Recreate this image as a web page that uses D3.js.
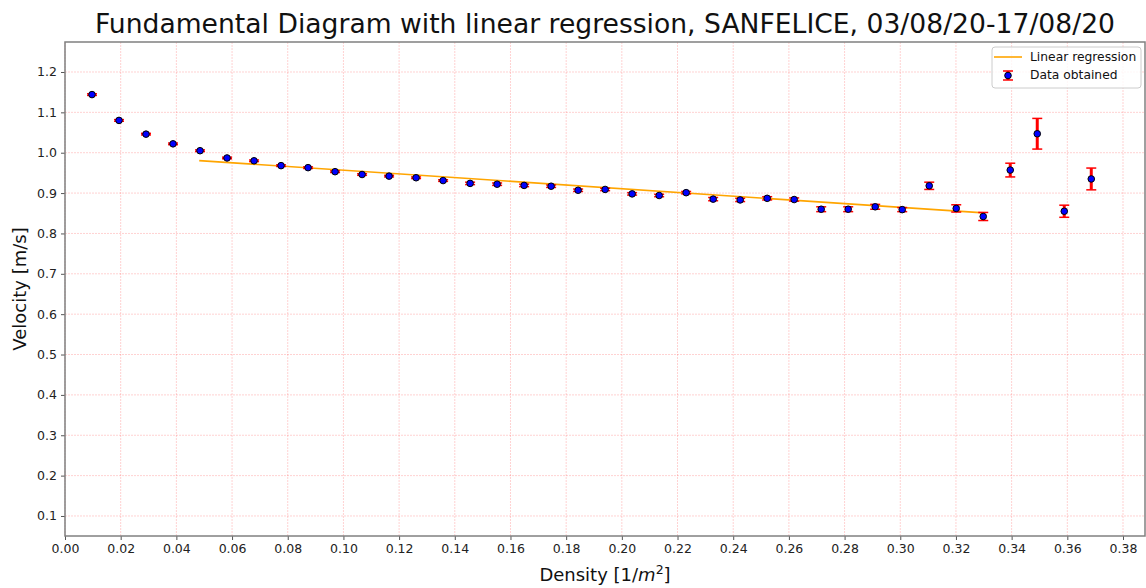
<!DOCTYPE html>
<html>
<head>
<meta charset="utf-8">
<script src="https://cdn.jsdelivr.net/npm/d3@7"></script>
<style>
  body { margin: 0; background: #fff; }
  text { font-family: "DejaVu Sans", sans-serif; }
</style>
</head>
<body>
<svg id="chart" width="1146" height="588"></svg>
<script>
// data
const density = [0.0097, 0.0194, 0.0291, 0.0388, 0.0485, 0.0582, 0.0679, 0.0776, 0.0873, 0.0970,
  0.1067, 0.1164, 0.1261, 0.1358, 0.1455, 0.1552, 0.1649, 0.1746, 0.1843, 0.1940,
  0.2037, 0.2134, 0.2231, 0.2328, 0.2425, 0.2522, 0.2619, 0.2716, 0.2813, 0.2910,
  0.3007, 0.3104, 0.3201, 0.3298, 0.3395, 0.3492, 0.3589, 0.3686];
const velocity = [1.144, 1.080, 1.046, 1.022, 1.005, 0.987, 0.980, 0.968, 0.963, 0.953,
  0.946, 0.942, 0.938, 0.931, 0.924, 0.922, 0.919, 0.917, 0.907, 0.909,
  0.898, 0.894, 0.901, 0.885, 0.883, 0.887, 0.884, 0.860, 0.860, 0.866,
  0.859, 0.918, 0.862, 0.842, 0.957, 1.047, 0.855, 0.935];
const velErr = [0.002, 0.002, 0.002, 0.002, 0.002, 0.002, 0.002, 0.002, 0.002, 0.002,
  0.002, 0.002, 0.002, 0.002, 0.003, 0.003, 0.003, 0.003, 0.003, 0.003,
  0.003, 0.003, 0.003, 0.004, 0.004, 0.004, 0.004, 0.006, 0.006, 0.006,
  0.005, 0.009, 0.009, 0.010, 0.017, 0.038, 0.015, 0.027];
// regression line ends
const regX = [0.0482, 0.3300];
const regY = [0.9805, 0.8510];

const xTicks = [0.00, 0.02, 0.04, 0.06, 0.08, 0.10, 0.12, 0.14, 0.16, 0.18, 0.20,
  0.22, 0.24, 0.26, 0.28, 0.30, 0.32, 0.34, 0.36, 0.38];
const yTicks = [0.1, 0.2, 0.3, 0.4, 0.5, 0.6, 0.7, 0.8, 0.9, 1.0, 1.1, 1.2];

const svg = d3.select("#chart");
const width = +svg.attr("width");
const height = +svg.attr("height");
const margins = { top: 42, right: 1, bottom: 52, left: 65 };
const plotW = width - margins.left - margins.right;
const plotH = height - margins.top - margins.bottom;

const x = d3.scaleLinear().domain([0, 0.3879]).range([0, plotW]);
const y = d3.scaleLinear().domain([0.0504, 1.2743]).range([plotH, 0]);

const g = svg.append("g")
  .attr("transform", "translate(" + margins.left + "," + margins.top + ")");

// grid
g.selectAll("line.vgrid").data(xTicks).join("line")
  .attr("class", "vgrid")
  .attr("x1", d => x(d)).attr("x2", d => x(d))
  .attr("y1", 0).attr("y2", plotH)
  .attr("stroke", "#ff0000").attr("stroke-opacity", 0.18)
  .attr("stroke-dasharray", "2,1");
g.selectAll("line.hgrid").data(yTicks).join("line")
  .attr("class", "hgrid")
  .attr("x1", 0).attr("x2", plotW)
  .attr("y1", d => y(d)).attr("y2", d => y(d))
  .attr("stroke", "#ff0000").attr("stroke-opacity", 0.18)
  .attr("stroke-dasharray", "2,1");

// regression
g.append("path")
  .datum(regX.map((d, i) => [d, regY[i]]))
  .attr("d", d3.line().x(d => x(d[0])).y(d => y(d[1])))
  .attr("stroke", "orange").attr("stroke-width", 1.6).attr("fill", "none");

// error bars
const pts = density.map((d, i) => ({ x: d, y: velocity[i], e: velErr[i] }));
const eb = g.selectAll("g.eb").data(pts).join("g").attr("class", "eb");
eb.append("line")
  .attr("x1", d => x(d.x)).attr("x2", d => x(d.x))
  .attr("y1", d => y(d.y - d.e)).attr("y2", d => y(d.y + d.e))
  .attr("stroke", "red").attr("stroke-width", 3);
[-1, 1].forEach(s => {
  eb.append("line")
    .attr("x1", d => x(d.x) - 5).attr("x2", d => x(d.x) + 5)
    .attr("y1", d => y(d.y + s * d.e)).attr("y2", d => y(d.y + s * d.e))
    .attr("stroke", "red").attr("stroke-width", 1.5);
});
eb.append("circle")
  .attr("cx", d => x(d.x)).attr("cy", d => y(d.y))
  .attr("r", 3.3)
  .attr("fill", "blue").attr("stroke", "black").attr("stroke-width", 1);

// axes
const xAxis = g.append("g")
  .attr("transform", "translate(0," + plotH + ")")
  .call(d3.axisBottom(x).tickValues(xTicks).tickFormat(d3.format(".2f")).tickSize(4).tickPadding(4));
const yAxis = g.append("g")
  .call(d3.axisLeft(y).tickValues(yTicks).tickFormat(d3.format(".1f")).tickSize(4).tickPadding(4));
[xAxis, yAxis].forEach(a => {
  a.select(".domain").remove();
  a.selectAll(".tick line").attr("stroke", "#555");
  a.selectAll(".tick text").attr("fill", "#222").style("font-size", "12.5px")
    .style("font-family", "DejaVu Sans");
});

// frame
g.append("rect")
  .attr("x", 0).attr("y", 0).attr("width", plotW).attr("height", plotH)
  .attr("fill", "none").attr("stroke", "#808080").attr("stroke-width", 1.5);

// title
svg.append("text")
  .attr("x", margins.left + plotW / 2).attr("y", 33)
  .attr("text-anchor", "middle")
  .style("font-size", "26.6px").attr("fill", "#111")
  .text("Fundamental Diagram with linear regression, SANFELICE, 03/08/20-17/08/20");

// axis labels
const xl = svg.append("text")
  .attr("x", margins.left + plotW / 2).attr("y", 581)
  .attr("text-anchor", "middle")
  .style("font-size", "18px").attr("fill", "#111");
xl.append("tspan").text("Density [1/");
xl.append("tspan").style("font-style", "italic").text("m");
xl.append("tspan").attr("dy", -7).style("font-size", "12.5px").text("2");
xl.append("tspan").attr("dy", 7).text("]");

svg.append("text")
  .attr("transform", "translate(26," + (margins.top + plotH / 2) + ") rotate(-90)")
  .attr("text-anchor", "middle")
  .style("font-size", "18px").attr("fill", "#111")
  .text("Velocity [m/s]");

// legend
const lg = svg.append("g").attr("transform", "translate(992,47)");
lg.append("rect")
  .attr("width", 149).attr("height", 41).attr("rx", 3)
  .attr("fill", "white").attr("fill-opacity", 0.8)
  .attr("stroke", "#ccc");
lg.append("line")
  .attr("x1", 2).attr("x2", 30).attr("y1", 10).attr("y2", 10)
  .attr("stroke", "orange").attr("stroke-width", 1.6);
lg.append("text").attr("x", 38).attr("y", 14)
  .style("font-size", "12.3px").attr("fill", "#111").text("Linear regression");
lg.append("line")
  .attr("x1", 16).attr("x2", 16).attr("y1", 24).attr("y2", 33)
  .attr("stroke", "red").attr("stroke-width", 3);
[24, 33].forEach(v => {
  lg.append("line")
    .attr("x1", 11).attr("x2", 21).attr("y1", v).attr("y2", v)
    .attr("stroke", "red").attr("stroke-width", 1.5);
});
lg.append("circle").attr("cx", 16).attr("cy", 28.5).attr("r", 3.3)
  .attr("fill", "blue").attr("stroke", "black");
lg.append("text").attr("x", 38).attr("y", 32)
  .style("font-size", "12.3px").attr("fill", "#111").text("Data obtained");
</script>
</body>
</html>
